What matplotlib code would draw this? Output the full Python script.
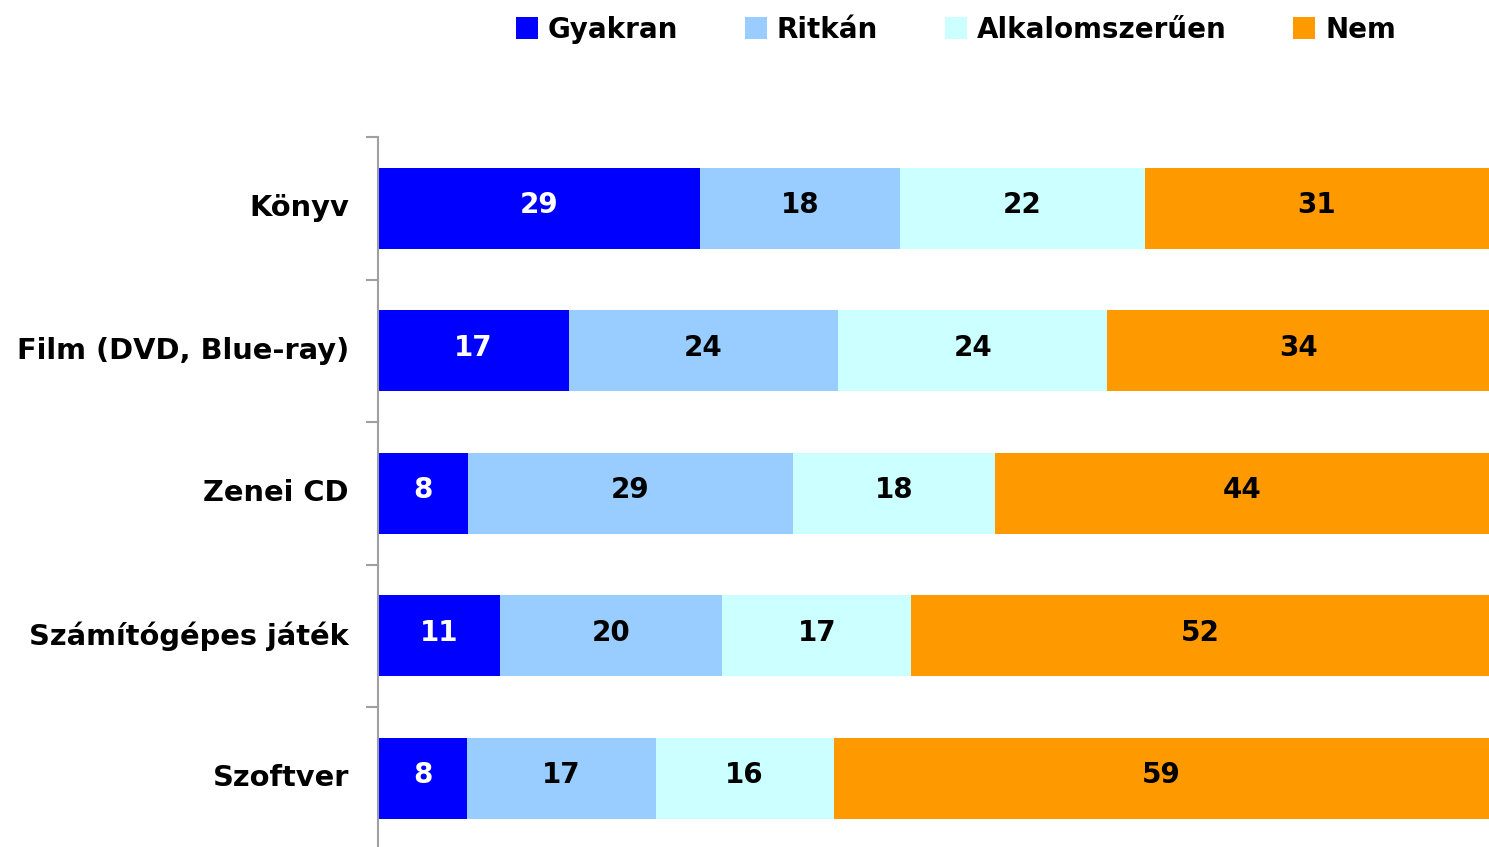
import matplotlib as mpl
mpl.use("Agg")
import matplotlib.pyplot as plt
import numpy as np

categories = ["Könyv", "Film (DVD, Blue-ray)", "Zenei CD", "Számítógépes játék", "Szoftver"]
series = ["Gyakran", "Ritkán", "Alkalomszerűen", "Nem"]
gyakran = [29, 17, 8, 11, 8]
ritkan = [18, 24, 29, 20, 17]
alkalom = [22, 24, 18, 17, 16]
nem = [31, 34, 44, 52, 59]
colors = ["#0000FF", "#99CCFF", "#CCFFFF", "#FF9900"]
text_colors = ["white", "black", "black", "black"]

plt.rcParams['font.family'] = ['DejaVu Sans']
plt.rcParams['font.weight'] = 'bold'

data = np.array([gyakran, ritkan, alkalom, nem], dtype=float)
totals = data.sum(axis=0)
shares = data / totals * 100

fig = plt.figure(figsize=(14.89, 8.47), dpi=100)
ax = fig.add_axes([378 / 1489, -0.003, 1 - 378 / 1489, 1 - 137 / 847 + 0.003])

y = np.arange(len(categories))
left = np.zeros(len(categories))
for i, name in enumerate(series):
    ax.barh(y, shares[i], left=left, height=0.57, color=colors[i], label=name)
    for j in range(len(categories)):
        ax.text(left[j] + shares[i][j] / 2, y[j] - 0.02, "%d" % data[i][j],
                ha="center", va="center", color=text_colors[i],
                fontsize=20, fontweight="bold")
    left += shares[i]

ax.set_xlim(0, 100)
ax.set_ylim(4.5, -0.5)
ax.set_yticks(y)
ax.set_yticklabels(categories, fontsize=20.8, fontweight="bold", va="center")
ax.set_yticks(np.arange(-0.5, 5, 1), minor=True)
ax.tick_params(axis="y", which="major", length=0, pad=21)
ax.tick_params(axis="y", which="minor", length=9, width=1.5, color="#A0A0A0")
ax.set_xticks([])
for s in ["top", "right", "bottom"]:
    ax.spines[s].set_visible(False)
ax.spines["left"].set_color("#A0A0A0")
ax.spines["left"].set_linewidth(1.5)

fig.legend(loc="upper center", bbox_to_anchor=(0.642, 1.011), ncol=4, frameon=False,
           fontsize=20, handlelength=0.8, handleheight=0.8, handletextpad=0.35,
           columnspacing=2.4)

plt.savefig("out.png", dpi=100)
